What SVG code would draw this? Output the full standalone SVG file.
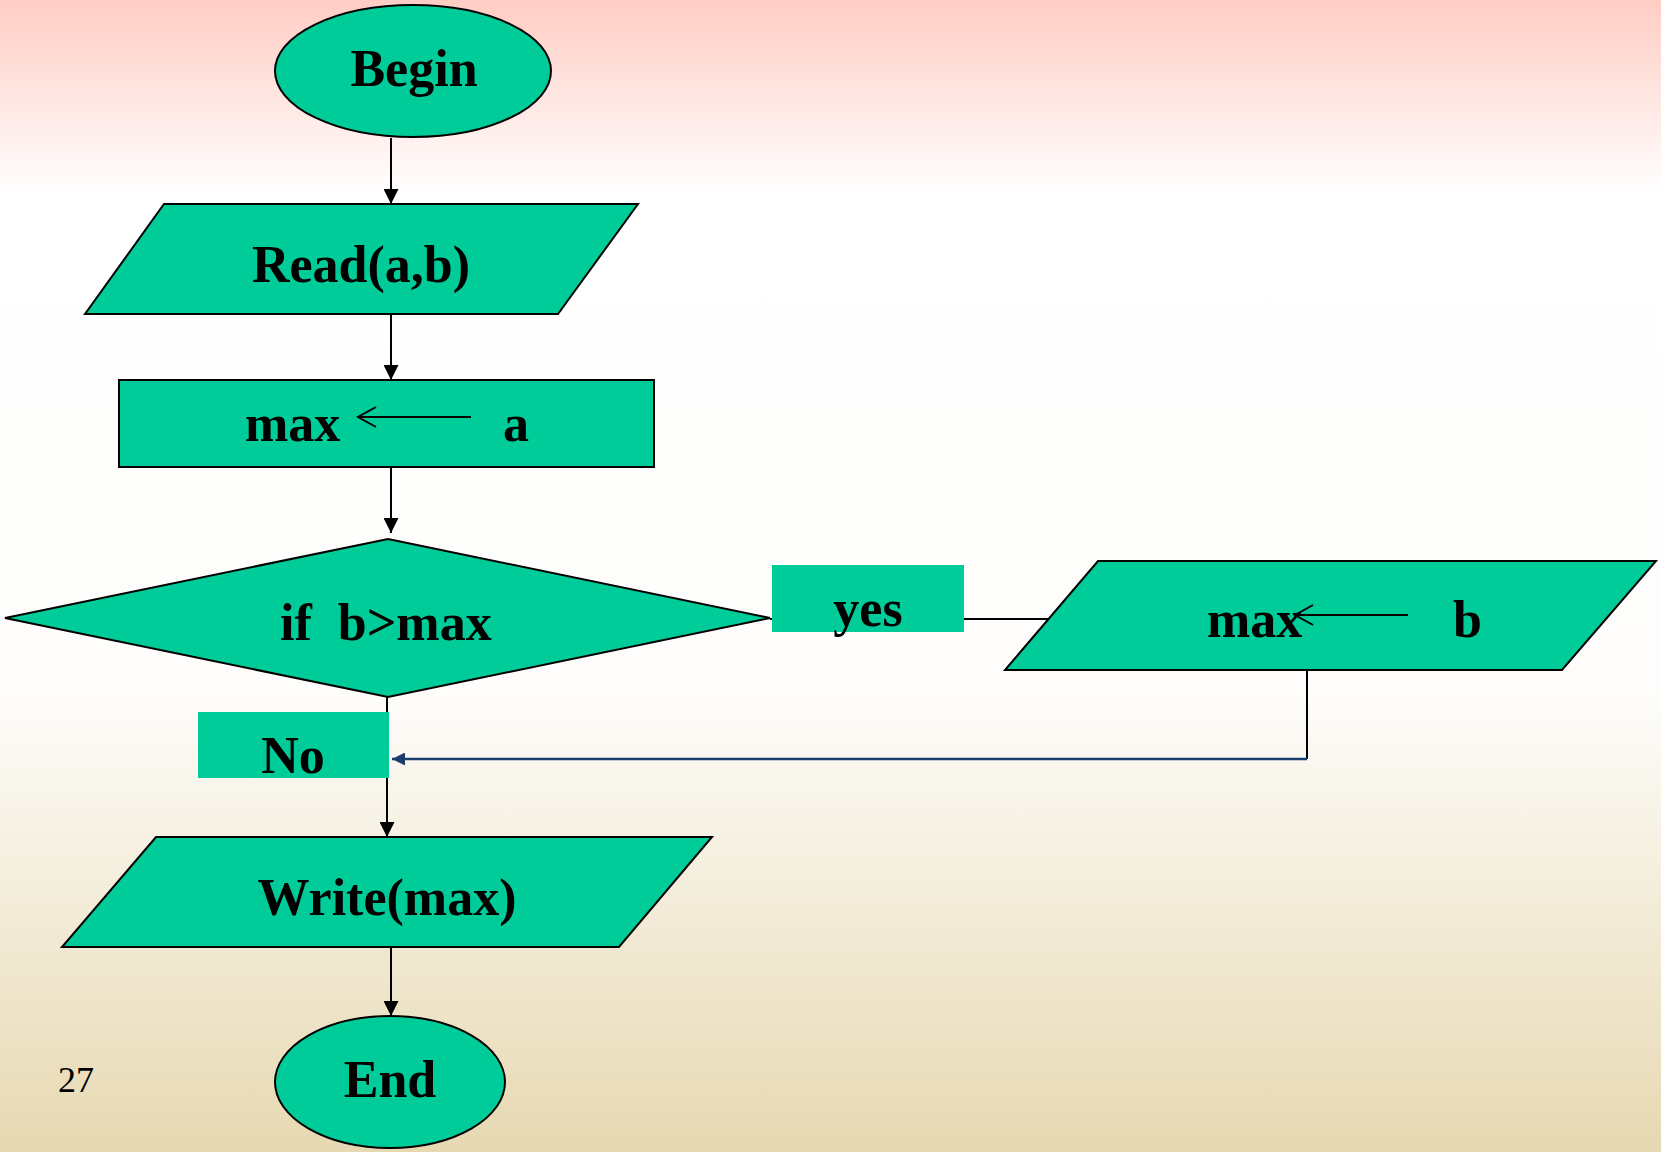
<svg xmlns="http://www.w3.org/2000/svg" width="1661" height="1152" viewBox="0 0 1661 1152">
  <style>
    .shape { fill: #00CC99; stroke: #000; stroke-width: 2; }
    .tag { fill: #00CC99; stroke: none; }
    .lbl { font-family: "Liberation Serif", "Times New Roman", serif; font-weight: bold; font-size: 52px; fill: #000; }
    .num { font-family: "Liberation Serif", "Times New Roman", serif; font-size: 36px; fill: #000; }
    .flow { fill: none; stroke: #000; stroke-width: 2; }
    .back { fill: none; stroke: #1B3D6E; stroke-width: 2.5; }
    .assign { fill: none; stroke: #000; stroke-width: 2; }
  </style>
  <defs>
    <linearGradient id="bg" x1="0" y1="0" x2="0" y2="1">
      <stop offset="0" stop-color="#FFCDC4"/>
      <stop offset="0.17" stop-color="#FFFFFF"/>
      <stop offset="0.6" stop-color="#FEFDFB"/>
      <stop offset="1" stop-color="#E6D8B1"/>
    </linearGradient>
    <marker id="head" viewBox="0 0 10 10" markerWidth="15" markerHeight="15" markerUnits="userSpaceOnUse" refX="10" refY="5" orient="auto">
      <path d="M0,0 L10,5 L0,10 Z" fill="#000"/>
    </marker>
    <marker id="headBlue" viewBox="0 0 10 10" markerWidth="15" markerHeight="13" markerUnits="userSpaceOnUse" refX="10" refY="5" orient="auto">
      <path d="M0,0 L10,5 L0,10 Z" fill="#1B3D6E"/>
    </marker>
  </defs>

  <!-- page background -->
  <rect x="0" y="0" width="1661" height="1152" fill="url(#bg)"/>

  <!-- connectors -->
  <g id="connectors">
    <line class="flow" x1="391" y1="138" x2="391" y2="204" marker-end="url(#head)"/>
    <line class="flow" x1="391" y1="315" x2="391" y2="380" marker-end="url(#head)"/>
    <line class="flow" x1="391" y1="467" x2="391" y2="533" marker-end="url(#head)"/>
    <line class="flow" x1="770" y1="619" x2="1049" y2="619"/>
    <line class="flow" x1="387" y1="697" x2="387" y2="837" marker-end="url(#head)"/>
    <polyline class="flow" stroke-width="1.5" points="1307,670 1307,759"/>
    <line class="back" x1="1307" y1="759" x2="392" y2="759" marker-end="url(#headBlue)"/>
    <line class="flow" x1="391" y1="948" x2="391" y2="1016" marker-end="url(#head)"/>
  </g>

  <!-- nodes -->
  <g id="begin">
    <ellipse class="shape" cx="413" cy="71" rx="138" ry="66"/>
    <text class="lbl" x="414" y="86" text-anchor="middle">Begin</text>
  </g>

  <g id="read">
    <polygon class="shape" points="164,204 638,204 558,314 85,314"/>
    <text class="lbl" x="361" y="282" text-anchor="middle">Read(a,b)</text>
  </g>

  <g id="init-max">
    <rect class="shape" x="119" y="380" width="535" height="87"/>
    <text class="lbl" x="245" y="441">max</text>
    <path class="assign" d="M471,417 H358 M376,407 L358,417 L376,427"/>
    <text class="lbl" x="503" y="441">a</text>
  </g>

  <g id="test">
    <polygon class="shape" points="388,539 770,618 388,697 5,618"/>
    <text class="lbl" x="280" y="640" xml:space="preserve">if  b&gt;max</text>
  </g>

  <g id="update-max">
    <polygon class="shape" points="1098,561 1656,561 1562,670 1005,670"/>
    <text class="lbl" x="1207" y="637">max</text>
    <path class="assign" d="M1408,615 H1295 M1313,605 L1295,615 L1313,625"/>
    <text class="lbl" x="1453" y="637">b</text>
  </g>

  <g id="write">
    <polygon class="shape" points="156,837 712,837 619,947 62,947"/>
    <text class="lbl" x="387" y="915" text-anchor="middle">Write(max)</text>
  </g>

  <g id="end">
    <ellipse class="shape" cx="390" cy="1082" rx="115" ry="66"/>
    <text class="lbl" x="390" y="1097" text-anchor="middle">End</text>
  </g>

  <!-- branch labels -->
  <g id="label-yes">
    <rect class="tag" x="772" y="565" width="192" height="67"/>
    <text class="lbl" x="868" y="626" text-anchor="middle">yes</text>
  </g>

  <g id="label-no">
    <rect class="tag" x="198" y="712" width="191" height="66"/>
    <text class="lbl" x="293" y="773" text-anchor="middle">No</text>
  </g>

  <!-- slide number -->
  <text class="num" x="58" y="1092">27</text>
</svg>
